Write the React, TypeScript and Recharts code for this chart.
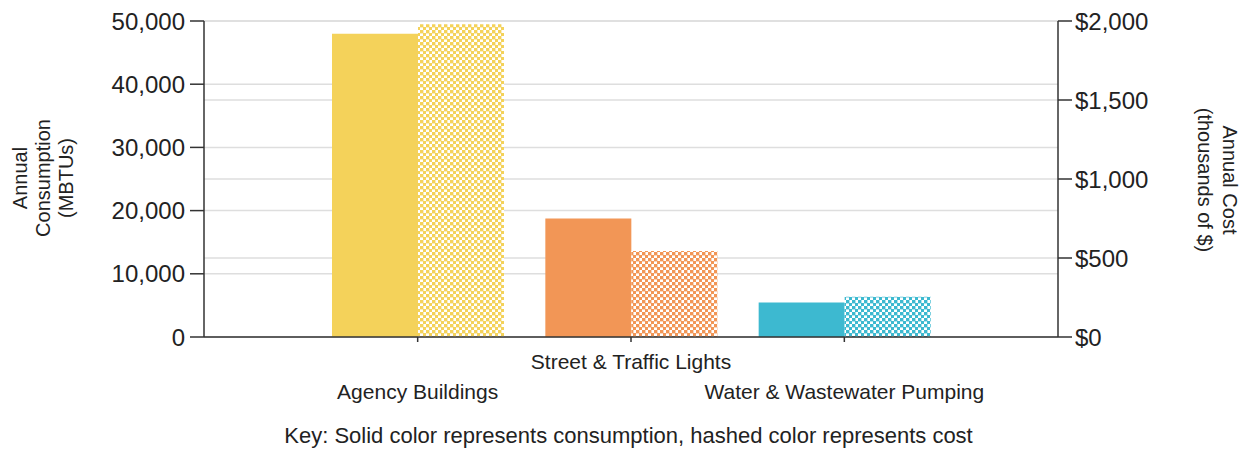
import React from "react";
import {
  BarChart,
  Bar,
  Cell,
  XAxis,
  YAxis,
  CartesianGrid,
  Label,
} from "recharts";

const categories = [
  "Agency Buildings",
  "Street & Traffic Lights",
  "Water & Wastewater Pumping",
];
const consumption = [48000, 18750, 5450]; // MBTUs
const cost = [1980, 545, 255]; // thousands of $
const barColors = ["#F4D25A", "#F29656", "#3DB9D0"];
const leftTicks = [0, 10000, 20000, 30000, 40000, 50000];
const rightTicks = [0, 500, 1000, 1500, 2000];

const data = categories.map((name, i) => ({
  name,
  consumption: consumption[i],
  cost: cost[i],
}));

const FONT = '"Liberation Sans", Arial, sans-serif';
const TEXT = "#222";

// categories alternate between two rows under the axis
const CategoryTick = (props: any) => {
  const { x, y, payload, index } = props;
  const dy = index % 2 === 1 ? 17 : 47;
  return (
    <text
      x={x}
      y={y + dy}
      textAnchor="middle"
      dominantBaseline="central"
      fontFamily={FONT}
      fontSize={21}
      fill={TEXT}
    >
      {payload.value}
    </text>
  );
};

const LeftTitle = () => (
  <text
    transform="translate(43, 178) rotate(-90)"
    textAnchor="middle"
    dominantBaseline="central"
    fontFamily={FONT}
    fontSize={20}
    fill={TEXT}
  >
    <tspan x={0} dy={-23}>Annual</tspan>
    <tspan x={0} dy={23}>Consumption</tspan>
    <tspan x={0} dy={23}>(MBTUs)</tspan>
  </text>
);

const RightTitle = () => (
  <text
    transform="translate(1218, 180) rotate(90)"
    textAnchor="middle"
    dominantBaseline="central"
    fontFamily={FONT}
    fontSize={20}
    fill={TEXT}
  >
    <tspan x={0} dy={-12}>Annual Cost</tspan>
    <tspan x={0} dy={25}>(thousands of $)</tspan>
  </text>
);

export default function App() {
  return (
    <div
      style={{
        position: "absolute",
        left: 0,
        top: 0,
        width: 1243,
        height: 459,
        background: "#fff",
        fontFamily: FONT,
      }}
    >
      <svg width={0} height={0} style={{ position: "absolute" }}>
        <defs>
          {barColors.map((c, i) => (
            <pattern
              key={i}
              id={`hatch-${i}`}
              width={6}
              height={6}
              patternUnits="userSpaceOnUse"
            >
              <rect width={6} height={6} fill="#fff" />
              <rect x={0} y={0} width={3.4} height={3.4} fill={c} />
              <rect x={3} y={3} width={3.4} height={3.4} fill={c} />
            </pattern>
          ))}
        </defs>
      </svg>
      <BarChart
        width={1243}
        height={459}
        data={data}
        margin={{ top: 21, right: 0, left: 0, bottom: 22 }}
        barGap={0}
        barSize={86}
      >
        <CartesianGrid
          yAxisId="left"
          vertical={false}
          stroke="#dedede"
          strokeWidth={1.5}
        />
        <CartesianGrid
          yAxisId="right"
          vertical={false}
          stroke="#dedede"
          strokeWidth={1.5}
        />
        <XAxis
          dataKey="name"
          height={100}
          padding={{ left: 107, right: 107 }}
          axisLine={{ stroke: "#333", strokeWidth: 1.5 }}
          tickLine={{ stroke: "#333", strokeWidth: 1.5 }}
          tickSize={5}
          interval={0}
          tick={<CategoryTick />}
        />
        <YAxis
          yAxisId="left"
          orientation="left"
          width={204}
          domain={[0, 50000]}
          ticks={leftTicks}
          tickSize={14}
          tickMargin={5}
          tickFormatter={(v: number) => v.toLocaleString("en-US")}
          axisLine={{ stroke: "#333", strokeWidth: 1.5 }}
          tickLine={{ stroke: "#333", strokeWidth: 1.5 }}
          tick={{ fill: TEXT, fontSize: 24, fontFamily: FONT }}
        >
          <Label content={<LeftTitle />} />
        </YAxis>
        <YAxis
          yAxisId="right"
          orientation="right"
          width={185}
          domain={[0, 2000]}
          ticks={rightTicks}
          tickSize={14}
          tickMargin={3}
          tickFormatter={(v: number) => "$" + v.toLocaleString("en-US")}
          axisLine={{ stroke: "#333", strokeWidth: 1.5 }}
          tickLine={{ stroke: "#333", strokeWidth: 1.5 }}
          tick={{ fill: TEXT, fontSize: 24, fontFamily: FONT }}
        >
          <Label content={<RightTitle />} />
        </YAxis>
        <Bar yAxisId="left" dataKey="consumption" isAnimationActive={false}>
          {data.map((_, i) => (
            <Cell key={i} fill={barColors[i]} />
          ))}
        </Bar>
        <Bar yAxisId="right" dataKey="cost" isAnimationActive={false}>
          {data.map((_, i) => (
            <Cell key={i} fill={`url(#hatch-${i})`} />
          ))}
        </Bar>
      </BarChart>
      <div
        style={{
          position: "absolute",
          left: 0,
          width: 1257,
          top: 423,
          textAlign: "center",
          fontSize: 22,
          color: TEXT,
          whiteSpace: "nowrap",
        }}
      >
        Key: Solid color represents consumption, hashed color represents cost
      </div>
    </div>
  );
}
